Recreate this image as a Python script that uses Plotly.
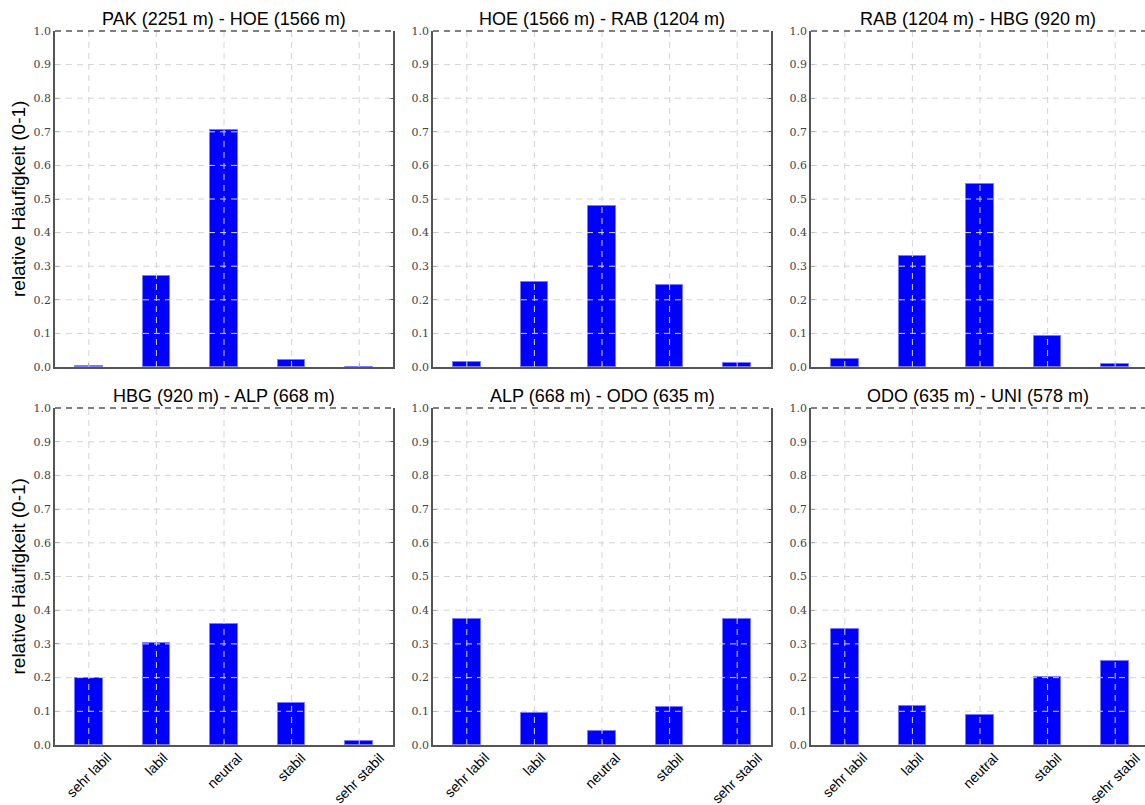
import plotly.graph_objects as go
from plotly.subplots import make_subplots

# Stability classes (x categories)
categories = ["sehr labil", "labil", "neutral", "stabil", "sehr stabil"]

# Station pairs (panel titles)
panel_titles = [
    "PAK (2251 m) - HOE (1566 m)",
    "HOE (1566 m) - RAB (1204 m)",
    "RAB (1204 m) - HBG (920 m)",
    "HBG (920 m) - ALP (668 m)",
    "ALP (668 m) - ODO (635 m)",
    "ODO (635 m) - UNI (578 m)",
]

# Relative frequencies per station pair
freq_pak_hoe = [0.003, 0.270, 0.706, 0.021, 0.001]
freq_hoe_rab = [0.014, 0.253, 0.478, 0.245, 0.011]
freq_rab_hbg = [0.024, 0.330, 0.545, 0.093, 0.010]
freq_hbg_alp = [0.198, 0.303, 0.360, 0.125, 0.012]
freq_alp_odo = [0.375, 0.094, 0.043, 0.112, 0.375]
freq_odo_uni = [0.345, 0.115, 0.090, 0.202, 0.248]

series = [freq_pak_hoe, freq_hoe_rab, freq_rab_hbg,
          freq_hbg_alp, freq_alp_odo, freq_odo_uni]

y_ticks = [i / 10 for i in range(11)]
y_label = "relative Häufigkeit (0-1)"

W, H = 1145, 805
col_px = [(55, 393), (433, 771), (811, 1145)]
row_px = [(31, 367), (408, 745)]

fig = make_subplots(rows=2, cols=3)

SPINE = "#555555"
GRID = "#d4d4d4"
SANS = "Liberation Sans, Arial, sans-serif"
x_idx = list(range(len(categories)))

for k, vals in enumerate(series):
    r, c = divmod(k, 3)
    fig.add_trace(
        go.Bar(
            x=x_idx, y=vals, width=0.41,
            marker=dict(color="#0000ff", line=dict(color="#7a7aff", width=1)),
            showlegend=False,
        ),
        row=r + 1, col=c + 1,
    )
    ax = "" if k == 0 else str(k + 1)
    x0, x1 = col_px[c]
    y0, y1 = row_px[r]
    xr = [-0.5, 4.5] if c < 2 else [-0.5, -0.5 + (x1 - x0) / 67.6]
    fig.update_layout(**{
        f"xaxis{ax}": dict(
            domain=[x0 / W, x1 / W], range=xr, automargin=False,
            tickmode="array", tickvals=x_idx, showticklabels=False,
            showgrid=False, zeroline=False,
            showline=True, linecolor=SPINE, linewidth=1.5,
            ticks="inside", ticklen=4, tickcolor=SPINE,
        ),
        f"yaxis{ax}": dict(
            domain=[1 - y1 / H, 1 - y0 / H], range=[0, 1], automargin=False,
            tickmode="array", tickvals=y_ticks,
            ticktext=[f"{v:.1f}" for v in y_ticks],
            tickfont=dict(family="DejaVu Serif, Liberation Serif, serif", size=11, color="#444"),
            showgrid=False, zeroline=False,
            showline=True, linecolor=SPINE, linewidth=1.5,
            mirror="ticks" if c < 2 else False,
            ticks="inside", ticklen=4, tickcolor=SPINE,
        ),
    })
    xref, yref = f"x{ax}", f"y{ax}"
    # dashed grid drawn above the bars
    for xi in x_idx:
        fig.add_shape(type="line", xref=xref, yref=f"{yref} domain",
                      x0=xi, x1=xi, y0=0, y1=1, layer="above",
                      line=dict(color=GRID, width=1, dash="6px,5px"))
    for yv in y_ticks[1:-1]:
        fig.add_shape(type="line", xref=f"{xref} domain", yref=yref,
                      x0=0, x1=1, y0=yv, y1=yv, layer="above",
                      line=dict(color=GRID, width=1, dash="6px,5px"))
    # dashed upper frame
    fig.add_shape(type="line", xref=f"{xref} domain", yref=f"{yref} domain",
                  x0=0, x1=1, y0=1, y1=1, layer="above",
                  line=dict(color=SPINE, width=1.5, dash="6px,5px"))
    # panel title
    fig.add_annotation(text=panel_titles[k], xref=f"{xref} domain", yref=f"{yref} domain",
                       x=0.5, y=1, yanchor="bottom", xanchor="center", yshift=0,
                       showarrow=False,
                       font=dict(family=SANS, size=18, color="#000"))
    # rotated category labels, centred under each tick (bottom row only)
    if r == 1:
        for xi, name in zip(x_idx, categories):
            fig.add_annotation(text=name, xref=xref, yref=f"{yref} domain",
                               x=xi, y=0, xanchor="center", yanchor="top",
                               yshift=-2, textangle=-45, showarrow=False,
                               font=dict(family=SANS, size=14, color="#000"))

# y-axis label on the left column
for r in range(2):
    y0, y1 = row_px[r]
    fig.add_annotation(text=y_label, xref="paper", yref="paper",
                       x=18 / W, y=1 - (y0 + y1) / 2 / H, textangle=-90,
                       xanchor="center", yanchor="middle", showarrow=False,
                       font=dict(family=SANS, size=19, color="#000"))

fig.update_layout(
    width=W, height=H,
    margin=dict(l=0, r=0, t=0, b=0),
    paper_bgcolor="white", plot_bgcolor="white",
    bargap=0,
)

fig.write_html("out.html")
